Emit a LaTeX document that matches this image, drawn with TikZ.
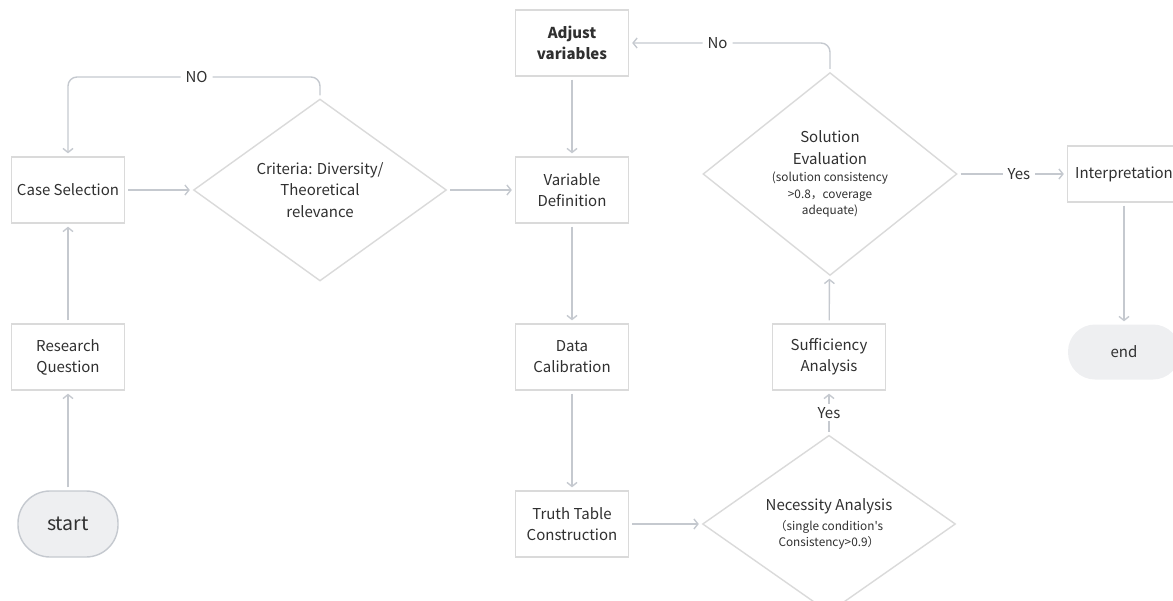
\documentclass[tikz,border=0pt]{standalone}
\usepackage{fontspec}
\setmainfont{Noto Sans CJK SC}[Ligatures=TeXOff]
\usetikzlibrary{shapes.geometric,arrows.meta}

\definecolor{linegray}{HTML}{C5C9CF}
\definecolor{boxgray}{HTML}{DADADA}
\definecolor{textgray}{HTML}{303030}
\definecolor{termfill}{HTML}{EEEFF1}

\tikzset{
	stepbox/.style={draw=boxgray, line width=1.4pt, fill=white, minimum width=113pt,
	   minimum height=66pt, inner sep=2pt, align=center, text=textgray,
	   font=\fontsize{15}{21}\selectfont},
	choice/.style={diamond, draw=boxgray, line width=1.4pt, fill=white, inner sep=0pt,
	   align=center, text=textgray, font=\fontsize{15}{21.5}\selectfont},
	terminal/.style={fill=termfill, align=center, text=textgray},
	flow/.style={draw=linegray, line width=1.4pt, -{Straight Barb[length=4pt,width=10pt]},
	   shorten >=3pt, shorten <=3pt},
	lbl/.style={fill=white, inner sep=5pt, text=textgray, font=\fontsize{15}{17}\selectfont}
}
\newcommand{\smalltxt}{\fontsize{11.8}{16.5}\selectfont}

\begin{document}
\begin{tikzpicture}[x=1pt,y=-1pt]
	\useasboundingbox (0,0) rectangle (1173,600);

	% left column
	\node[terminal, draw=linegray, line width=1.4pt, rounded corners=32pt,
	   minimum width=100pt, minimum height=66pt, font=\fontsize{19.5}{22}\selectfont]
	   (start) at (68,524) {start};
	\node[stepbox] (question) at (68,357) {Research\\Question};
	\node[stepbox] (cases) at (68,190) {Case Selection};
	\node[choice, minimum width=253pt, minimum height=164pt]
	   (criteria) at (320,190) {Criteria: Diversity/\\Theoretical\\relevance};

	% middle column
	\node[stepbox, font=\fontsize{15}{21}\selectfont\bfseries]
	   (adjust) at (572,43) {Adjust\\variables};
	\node[stepbox] (vardef) at (572,190) {Variable\\Definition};
	\node[stepbox] (calib) at (572,357) {Data\\Calibration};
	\node[stepbox] (truth) at (572,524) {Truth Table\\Construction};

	% right part
	\node[choice, minimum width=253pt, minimum height=164pt] (necess) at (829,524)
	   {Necessity Analysis\\[-2pt]{\smalltxt（single condition's}\\[-5pt]{\smalltxt Consistency>0.9）}};
	\node[stepbox] (suffic) at (829,357) {Sufficiency\\Analysis};
	\node[choice, minimum width=254pt, minimum height=192pt] (solution) at (830,174)
	   {Solution\\Evaluation\\[-4pt]{\smalltxt(solution consistency}\\[-5pt]{\smalltxt>0.8，coverage}\\[-5pt]{\smalltxt adequate)}};
	\node[stepbox, minimum height=56pt] (interp) at (1124,174) {Interpretation};
	\node[terminal, rounded corners=27pt, minimum width=112pt, minimum height=55pt,
	   font=\fontsize{15}{17}\selectfont] (finish) at (1124,352) {end};

	% connectors
	\draw[flow] (start) -- (question);
	\draw[flow] (question) -- (cases);
	\draw[flow] (cases) -- (criteria);
	\draw[flow] (criteria) -- (vardef);
	\coordinate (noturn) at (320,77);
	\draw[flow, rounded corners=9pt] (criteria.north) -- (noturn)
	   -| node[lbl, pos=0.245] {NO} (cases.north);

	\draw[flow] (adjust) -- (vardef);
	\draw[flow] (vardef) -- (calib);
	\draw[flow] (calib) -- (truth);
	\draw[flow] (truth) -- (necess);
	\draw[flow] (necess) -- node[lbl, inner sep=3pt] {Yes} (suffic);
	\draw[flow] (suffic) -- (solution);
	\draw[flow, rounded corners=9pt] (solution.north) |- node[lbl, pos=0.78] {No} (adjust.east);
	\draw[flow] (solution) -- node[lbl, pos=0.56] {Yes} (interp);
	\draw[flow] (interp) -- (finish);
\end{tikzpicture}
\end{document}
